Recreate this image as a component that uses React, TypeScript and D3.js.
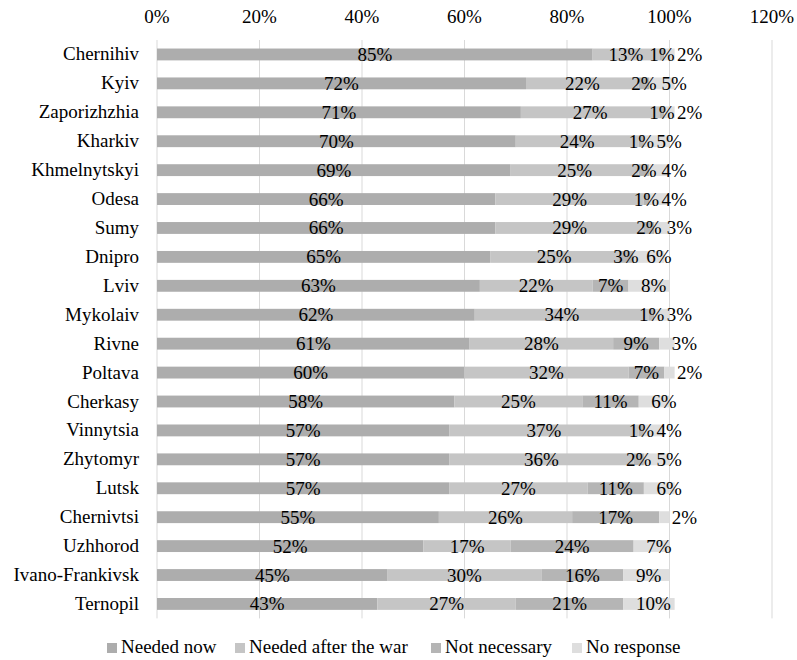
import React from "react";
import * as d3 from "d3";

const regions = [
  "Chernihiv", "Kyiv", "Zaporizhzhia", "Kharkiv", "Khmelnytskyi", "Odesa", "Sumy",
  "Dnipro", "Lviv", "Mykolaiv", "Rivne", "Poltava", "Cherkasy", "Vinnytsia",
  "Zhytomyr", "Lutsk", "Chernivtsi", "Uzhhorod", "Ivano-Frankivsk", "Ternopil",
];
const neededNow = [85, 72, 71, 70, 69, 66, 66, 65, 63, 62, 61, 60, 58, 57, 57, 57, 55, 52, 45, 43];
const neededAfter = [13, 22, 27, 24, 25, 29, 29, 25, 22, 34, 28, 32, 25, 37, 36, 27, 26, 17, 30, 27];
const notNecessary = [1, 2, 1, 1, 2, 1, 2, 3, 7, 1, 9, 7, 11, 1, 2, 11, 17, 24, 16, 21];
const noResponse = [2, 5, 2, 5, 4, 4, 3, 6, 8, 3, 3, 2, 6, 4, 5, 6, 2, 7, 9, 10];
const seriesNames = ["Needed now", "Needed after the war", "Not necessary", "No response"];
const seriesColors = ["#adadad", "#c5c5c5", "#b5b5b5", "#dedede"];
const xTicks = [0, 20, 40, 60, 80, 100, 120];

const W = 797;
const H = 660;
const FONT = "Liberation Serif, DejaVu Serif, serif";
const FS = 19;
const textStyle = { fontFamily: FONT, fontSize: FS + "px" };

export default function App() {
  const x = d3.scaleLinear().domain([0, 120]).range([157, 772]);
  const y = d3.scaleBand<string>().domain(regions).range([40, 618.4]).paddingInner(0.59).paddingOuter(0.295);

  const rows = regions.map((r, i) => ({
    region: r,
    values: [neededNow[i], neededAfter[i], notNecessary[i], noResponse[i]],
  }));

  const barH = y.bandwidth();
  const last = seriesNames.length - 1;

  return (
    <svg width={W} height={H} style={{ display: "block", position: "absolute", left: 0, top: 0 }}>
      <rect x={0} y={0} width={W} height={H} fill="#ffffff" />
      {xTicks.map((t) => (
        <g key={t}>
          <line x1={x(t)} x2={x(t)} y1={40} y2={618.4} stroke="#d9d9d9" strokeWidth={1} />
          <text x={x(t)} y={23} textAnchor="middle" style={textStyle} fill="#000">{t}%</text>
        </g>
      ))}
      {rows.map((row) => {
        const stack = d3.cumsum(row.values);
        const starts = row.values.map((v, j) => stack[j] - v);
        const yy = y(row.region)!;
        return (
          <g key={row.region}>
            <text x={139} y={yy + barH / 2 + 6} textAnchor="end" style={textStyle} fill="#000">{row.region}</text>
            {row.values.map((v, j) => (
              <rect key={j} x={x(starts[j])} y={yy} width={x(starts[j] + v) - x(starts[j])} height={barH} fill={seriesColors[j]} />
            ))}
            {row.values.map((v, j) =>
              j === last ? (
                // last segment: label sits at the segment's base
                <text key={"l" + j} x={x(starts[j]) + 12.5} y={yy + barH / 2 + 6.5} textAnchor="start" style={textStyle} fill="#000">{v}%</text>
              ) : (
                <text key={"l" + j} x={x(starts[j] + v / 2)} y={yy + barH / 2 + 6.5} textAnchor="middle" style={textStyle} fill="#000">{v}%</text>
              )
            )}
          </g>
        );
      })}
      {(() => {
        const legendX = [107, 235, 431, 572];
        return seriesNames.map((s, i) => (
          <g key={s}>
            <rect x={legendX[i]} y={643} width={10} height={10} fill={seriesColors[i]} />
            <text x={legendX[i] + 14} y={653} style={textStyle} fill="#000">{s}</text>
          </g>
        ));
      })()}
    </svg>
  );
}
